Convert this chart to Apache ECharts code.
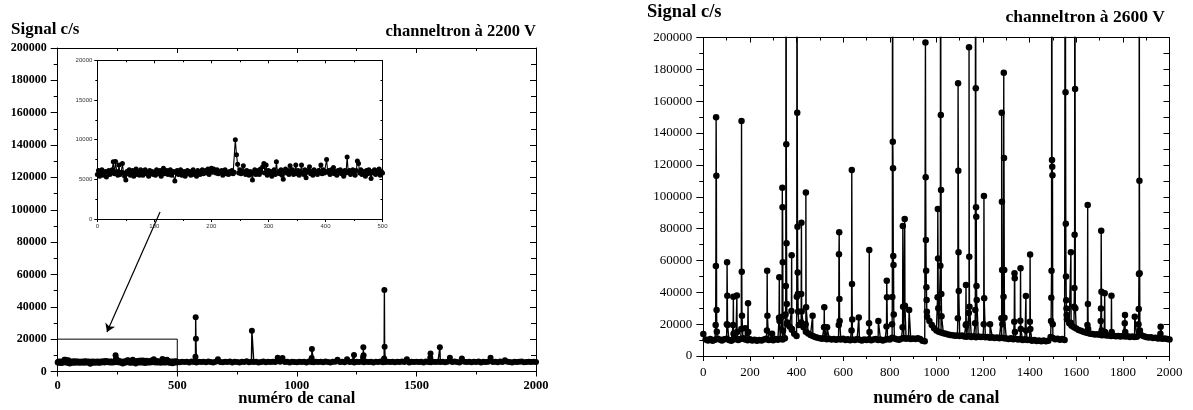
<!DOCTYPE html>
<html><head><meta charset="utf-8">
<script src="https://cdn.jsdelivr.net/npm/echarts@6/dist/echarts.min.js"></script>
<style>html,body{margin:0;padding:0;background:#fff}#c{width:1193px;height:410px}</style>
</head><body><div id="c"></div>
<script>
// ---------------- DATA ----------------
// Inset (= left panel channels 0..500), one value every 2 channels
const insetStart = 0, insetStep = 2;
const insetCounts = [
5600,6100,5400,5900,6200,5500,5800,6000,5300,5900,
6100,5600,5800,6200,7200,5700,7250,6000,5500,6800,
5600,5900,7000,5800,5400,4900,6000,5700,6200,5500,
5800,6100,5400,5900,6300,5600,6000,5500,6200,5800,
5500,6000,6200,5700,5900,5400,6100,5800,6000,5600,
5900,5500,6200,5800,5700,6100,5400,6000,6400,5700,
5800,6100,5600,5900,6200,5500,5800,6000,4800,5900,
6100,5600,5800,6200,5500,5900,6000,5400,5800,6100,
5700,6000,5500,5900,6200,5600,5800,5400,6100,5900,
5600,6000,6200,5700,5900,6100,5800,6300,5600,6200,
6400,5900,6300,6100,5800,6200,5700,6000,5900,6100,
5500,6000,6200,5700,5900,5600,6000,5800,6100,5700,
5900,10000,8100,6900,5800,6200,5700,6000,6700,5900,
5600,6100,5800,5500,6000,5700,4900,5900,6200,5600,
5800,6100,5600,6300,5900,6600,7000,5800,6800,5500,
6100,5700,6000,5400,5900,6200,5600,7200,5800,6000,
5700,6200,5500,5000,6000,6300,5800,6100,5600,6700,
5900,6200,5600,6000,6800,5700,6100,5500,6000,6800,
5800,5600,6200,5200,5900,6100,6600,5700,6000,5500,
6200,5800,6000,5600,6100,5900,6800,5700,6200,5800,
6000,7500,5900,6100,5600,6200,5800,6500,5700,6000,
5500,6100,5900,6200,5700,6000,5400,6100,5800,7800,
5900,6100,5600,6000,6200,5800,5500,6100,7300,7000,
5800,6200,5600,6000,5900,5400,6100,5700,6200,5800,
5100,6000,5800,6200,5600,5900,6100,6300,5500,6000,
5800];
const insetXRange = [0, 500], insetXInterval = 100;
const insetYRange = [0, 20000], insetYInterval = 5000;

// Left panel (channeltron 2200 V), channels 510..2000 every 10 channels
const leftStart = 510, leftStep = 10;
const leftCounts = [
5700,6100,5800,6000,5500,6200,5900,5600,6100,5800,
6000,5700,6200,5800,5600,6100,7500,5900,5700,6000,
5800,6200,5600,6000,5900,5500,6100,5800,6300,5700,
6000,5800,6100,5600,5900,6200,5700,6000,5800,6100,
5900,8500,6000,8300,5800,6100,5600,6000,5900,5700,
6100,5800,6000,5600,6200,5900,5700,6100,5800,6000,
5700,6200,5900,5600,6000,6100,7300,5800,6000,5700,
7500,5900,6100,5600,6000,5800,6200,5700,6000,5900,
6100,5600,6000,5800,6200,5700,5900,6100,5800,6000,
5700,6100,5900,6200,5800,7500,5600,6000,5900,6100,
5800,6000,5600,6200,5900,5700,6100,5800,6000,5900,
6100,5700,6000,8500,5800,6200,5900,5600,8000,6000,
5800,6100,5700,6000,5900,6200,5600,6000,5800,6100,
8500,5900,6000,5700,6200,5800,7000,6000,5900,5600,
6100,5800,6000,6200,5700,5900,6100,5800,6000,5900];
const leftSpikeChannels = [576, 812, 1062, 1239, 1277, 1365, 1558, 1598];
const leftSpikeCounts = [
[9150,33500,20300],[25200],[8300,13900],[10200],
[8800,14950,10000],[8000,50400,15300],[8500,11200],[14950]];
const leftXRange = [0, 2000], leftXInterval = 500;
const leftYRange = [0, 200000], leftYInterval = 20000;
const arrowFrom = [428, 98600], arrowTo = [206, 24400];

// Right panel (channeltron 2600 V), channels 0..2000 every 10 channels
const rightStart = 0, rightStep = 10;
const rightCounts = [
13800,10400,9800,10600,9500,10200,11000,10300,9700,10500,
10800,10100,9600,10400,10900,10000,10600,11200,10300,9900,
10500,9800,10200,9500,10100,9700,10300,10800,10000,10400,
9900,10600,10200,10900,10400,11200,21000,18500,16500,14000,
12500,19500,21000,18000,15300,14200,13200,12600,12000,11500,
11200,10800,11100,10500,10900,10300,10700,10200,10600,10400,
10800,10100,10500,9900,10300,10000,10600,10200,9800,10400,
10100,10500,9900,10300,10700,10000,10400,9800,10200,10600,
10300,11500,11000,10500,10200,10800,11300,10900,11100,10600,
11000,10700,11200,10600,9500,9200,24700,22000,19500,17500,
16000,15200,14800,14300,13900,13500,13200,13000,12700,12900,
12500,12800,12300,12100,12600,12000,12400,11800,12200,11900,
12100,11700,11900,11400,11800,11300,11600,11100,11500,11200,
11000,10700,11200,10500,10900,10300,10700,10100,10500,10000,
10200,9600,10000,9400,9800,9300,9700,9200,9600,12000,
11300,10500,10900,10200,10600,10100,23000,20500,19000,18000,
17200,16300,15800,15200,14800,14500,14000,13800,13500,13600,
13300,13000,13200,12800,12900,12600,12700,12400,12500,12300,
12600,12200,12400,12000,12300,11900,12100,14000,13000,12400,
12000,11600,11800,11300,11500,11000,11200,10800,11000,10600,
10400];
const rightSpikeChannels = [53,101,128,144,163,180,192,273,295,325,338,353,378,401,420,439,469,518,531,581,
636,667,711,751,786,810,855,864,883,953,1005,1017,1092,1126,1139,1166,1203,1230,1279,1288,
1334,1360,1384,1401,1492,1553,1576,1591,1648,1705,1722,1751,1808,1851,1867,1961];
const rightSpikeCounts = [
[19500,56500,150000,113200,28900,15300],[20000,58800,37900,19500],[19500,37200,14000],[38000,15000],
[17000,147600,52900,25300],[17400],[33100,15000],[16000,53600,25300],[14000],[24000,49400,22000],
[24700,105700,93400,58800,16000],[26000,44000,400000,132900,70800,32700,20000],[28300,63200,17000],
[37200,400000,152800,81200,52500,39000,28000],[39000,83700,28000],[20000,102600,30600],[25300],
[18000,30600,18000],[18000],[19500,63900,77700,35800,22000],[16000,116800,45200,22900],[24100],
[20500,66600,15000],[22000],[18500,47300,36900],[20000,37000,400000,134600,117900,62800,57100,26000],
[18000,81600,31000],[86000,31500],[28900],[196800,112200,72800,53600,43100,35200,27800],
[36900,92300,61300,30000],[56700,400000,151300,104200,38900,25000],[23700,171200,116400,65100,40800],
[19500,44600,20000],[27000,193900,62400,31000],[20500,28900,400000,168100,93400,87500,44000,35200],
[20000,100500,36200],[19900],[23700,152800,96900,54000,20000],[37200,177900,124300,54000,24000],
[21500,51900,48800,15000],[22200,55100,17000],[37700,16000],[21500,63800,17000],
[22000,36600,53600,400000,123100,118900,113500,20000],[400000,165600,83000,50000,35000,29900,25700],
[20900,65100,20000],[31000,42700,76200,400000,167700,30000],[19500,94800,32600,17000],
[22000,29900,78600,40400,16000],[39400,15000],[37900,15000],[20500,25700,15000],[24700],
[20000,29500,51500,400000,110100,51900,16000],[14000,18400]];
const rightXRange = [0, 2000], rightXInterval = 200;
const rightYRange = [0, 200000], rightYInterval = 20000;

const texts = {
  ylabel: 'Signal c/s', xlabel: 'numéro de canal',
  leftTitle: 'channeltron à 2200 V', rightTitle: 'channeltron à 2600 V'
};

// ---------------- BUILD ----------------
function points(segments, spikeCh, spikeVals) {
  const pts = [];
  segments.forEach(s => s.counts.forEach((v, i) => pts.push([s.start + i * s.step, v, 0])));
  spikeCh.forEach((c, k) => spikeVals[k].forEach((v, j) => pts.push([c + j, v, 1])));
  pts.sort((a, b) => a[0] - b[0] || a[2] - b[2]);
  return pts.map(p => [p[0], p[1]]);
}
const insetData = points([{start: insetStart, step: insetStep, counts: insetCounts}], [], []);
const leftData = points([{start: insetStart, step: insetStep, counts: insetCounts},
                         {start: leftStart, step: leftStep, counts: leftCounts}], leftSpikeChannels, leftSpikeCounts);
const rightData = points([{start: rightStart, step: rightStep, counts: rightCounts}], rightSpikeChannels, rightSpikeCounts);

const serif = '"Liberation Serif", "Times New Roman", serif';
const sans = '"Liberation Sans", Arial, sans-serif';
const black = '#000';
const plain = v => String(v);

function axis(o) {
  const a = {
    gridIndex: o.grid, type: 'value', position: o.pos, min: o.range[0], max: o.range[1], interval: o.interval,
    axisLine: {show: true, onZero: false, lineStyle: {color: black, width: o.lw || 1}},
    axisTick: {show: true, inside: !!o.inside, length: o.tl, lineStyle: {color: black, width: 1}},
    minorTick: {show: true, splitNumber: 2, length: o.ml, lineStyle: {color: black, width: 1}},
    splitLine: {show: false}, minorSplitLine: {show: false},
    axisLabel: o.label ? Object.assign({show: true, color: o.lc || black, formatter: plain}, o.label) : {show: false}
  };
  if (o.name) {
    a.name = o.name; a.nameLocation = 'middle'; a.nameGap = o.nameGap; a.nameMoveOverlap = false;
    a.nameTextStyle = o.nameStyle;
  }
  return a;
}

const option = {
  animation: false,
  backgroundColor: '#fff',
  grid: [
    {left: 57.7, top: 48, width: 478.3, height: 323.5, outerBoundsMode: 'none', containLabel: false},
    {left: 97.3, top: 60.3, width: 285.2, height: 158.7, outerBoundsMode: 'none', containLabel: false},
    {left: 703.3, top: 37.5, width: 466.2, height: 318.5, outerBoundsMode: 'none', containLabel: false}
  ],
  xAxis: [
    axis({grid: 0, pos: 'bottom', range: leftXRange, interval: leftXInterval, tl: 5, ml: 3,
      label: {fontFamily: serif, fontWeight: 'bold', fontSize: 12.5, margin: 8},
      name: texts.xlabel, nameGap: 19, nameStyle: {fontFamily: serif, fontWeight: 'bold', fontSize: 16.5, color: black}}),
    axis({grid: 0, pos: 'top', range: leftXRange, interval: leftXInterval, tl: 5, ml: 3, inside: true}),
    axis({grid: 1, pos: 'bottom', range: insetXRange, interval: insetXInterval, tl: 3, ml: 2,
      label: {fontFamily: sans, fontSize: 6, margin: 4}, lc: '#333'}),
    axis({grid: 1, pos: 'top', range: insetXRange, interval: insetXInterval, tl: 3, ml: 2, inside: true}),
    axis({grid: 2, pos: 'bottom', range: rightXRange, interval: rightXInterval, tl: 5, ml: 3,
      label: {fontFamily: serif, fontSize: 13, margin: 10},
      name: texts.xlabel, nameGap: 33, nameStyle: {fontFamily: serif, fontWeight: 'bold', fontSize: 17.8, color: black}}),
    axis({grid: 2, pos: 'top', range: rightXRange, interval: rightXInterval, tl: 5, ml: 3, inside: true})
  ],
  yAxis: [
    axis({grid: 0, pos: 'left', range: leftYRange, interval: leftYInterval, tl: 7, ml: 4,
      label: {fontFamily: serif, fontWeight: 'bold', fontSize: 12, margin: 11}}),
    axis({grid: 0, pos: 'right', range: leftYRange, interval: leftYInterval, tl: 6, ml: 5, inside: true}),
    axis({grid: 1, pos: 'left', range: insetYRange, interval: insetYInterval, tl: 3, ml: 2,
      label: {fontFamily: sans, fontSize: 6, margin: 5}, lc: '#333'}),
    axis({grid: 1, pos: 'right', range: insetYRange, interval: insetYInterval, tl: 3, ml: 2, inside: true}),
    axis({grid: 2, pos: 'left', range: rightYRange, interval: rightYInterval, tl: 7, ml: 4,
      label: {fontFamily: serif, fontSize: 13, margin: 11}}),
    axis({grid: 2, pos: 'right', range: rightYRange, interval: rightYInterval, tl: 6, ml: 6, inside: true})
  ],
  series: [
    {type: 'line', xAxisIndex: 0, yAxisIndex: 0, z: 1, silent: true, symbol: 'none', clip: false,
      data: [[insetXRange[0], insetYRange[1]], [insetXRange[1], insetYRange[1]], [insetXRange[1], insetYRange[0]]],
      lineStyle: {color: black, width: 1},
      markLine: {silent: true, symbol: ['none', 'arrow'], symbolSize: 8, label: {show: false},
        lineStyle: {color: black, width: 1.2, type: 'solid'},
        data: [[{coord: arrowFrom}, {coord: arrowTo}]]}},
    {type: 'line', xAxisIndex: 0, yAxisIndex: 0, z: 2, silent: true, data: leftData,
      symbol: 'circle', symbolSize: 6, showSymbol: true, showAllSymbol: true, clip: true,
      lineStyle: {color: black, width: 1.4}, itemStyle: {color: black}},
    {type: 'line', xAxisIndex: 2, yAxisIndex: 2, z: 3, silent: true, data: insetData,
      symbol: 'circle', symbolSize: 5, showSymbol: true, showAllSymbol: true, clip: true,
      lineStyle: {color: black, width: 1.1}, itemStyle: {color: black}},
    {type: 'line', xAxisIndex: 4, yAxisIndex: 4, z: 2, silent: true, data: rightData,
      symbol: 'circle', symbolSize: 6.5, showSymbol: true, showAllSymbol: true, clip: true,
      lineStyle: {color: black, width: 1.4}, itemStyle: {color: black}}
  ],
  graphic: [
    {type: 'text', x: 11, y: 30, style: {text: texts.ylabel, fontFamily: serif, fontWeight: 'bold', fontSize: 17, fill: black, align: 'left', verticalAlign: 'middle'}},
    {type: 'text', x: 536, y: 32, style: {text: texts.leftTitle, fontFamily: serif, fontWeight: 'bold', fontSize: 16.5, fill: black, align: 'right', verticalAlign: 'middle'}},
    {type: 'text', x: 647, y: 12, style: {text: texts.ylabel, fontFamily: serif, fontWeight: 'bold', fontSize: 18.5, fill: black, align: 'left', verticalAlign: 'middle'}},
    {type: 'text', x: 1165, y: 17.5, style: {text: texts.rightTitle, fontFamily: serif, fontWeight: 'bold', fontSize: 17.5, fill: black, align: 'right', verticalAlign: 'middle'}}
  ]
};
const chart = echarts.init(document.getElementById('c'), null, {renderer: 'canvas'});
chart.setOption(option);
</script>
</body></html>
